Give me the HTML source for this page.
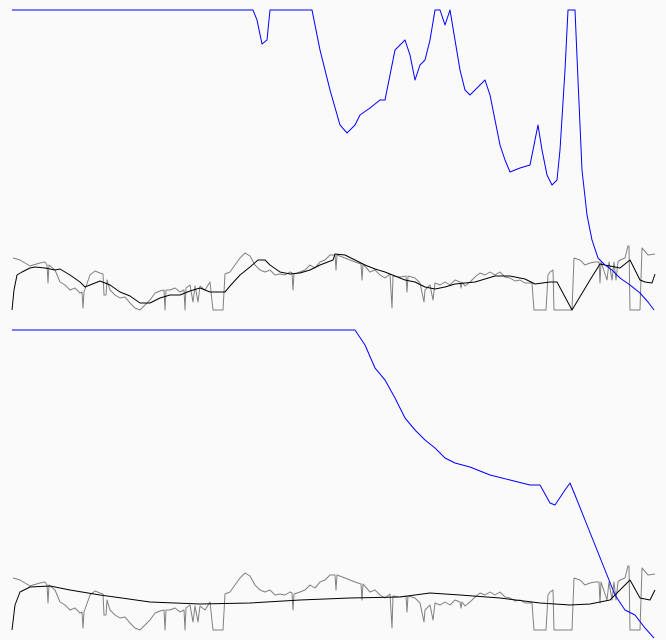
<!DOCTYPE html>
<html><head><meta charset="utf-8"><style>
html,body{margin:0;padding:0;background:#fafafa;}
svg{display:block;}
</style></head><body>
<svg id="chart" width="666" height="640" viewBox="0 0 666 640" xmlns="http://www.w3.org/2000/svg">
<rect width="666" height="640" fill="#fafafa"/>
<g id="top"></g>
<g id="bottom"></g>
</svg>
<script>
// Shared noisy series (day index, value)
const grayT=[1,8,13,18,21,28,33,35,36,37,43,48,53,58,63,68,70,71,72,78,83,88,91,92,94,95,98,103,108,113,118,123,128,133,138,143,148,152,153,154,158,163,168,172,173,174,178,181,183,186,188,193,198,201,211,213,218,223,228,233,238,243,248,253,258,263,268,273,278,280,281,282,288,293,298,303,308,313,318,323,324,325,333,338,343,349,350,351,358,363,368,373,378,380,381,388,394,395,396,403,408,412,413,418,421,423,428,433,438,443,448,449,450,453,458,463,468,473,478,483,488,493,498,503,508,513,520,522,534,536,538,541,542,560,562,568,573,578,583,587,588,589,595,597,600,602,604,606,608,613,616,617,618,628,630,636,643];
const grayV=[52,50,47,44,45,47,48,45,27,45,40,28,25,20,22,17,18,2,18,35,39,37,36,15,15,30,20,15,12,13,7,2,0,5,10,17,19,20,0,20,20,22,18,20,0,22,25,8,24,8,24,20,28,0,0,36,38,45,52,57,54,45,40,38,40,35,36,35,38,37,20,36,38,40,45,42,48,50,55,55,40,55,52,50,48,46,30,46,38,40,35,32,36,2,34,33,34,18,34,32,27,8,20,25,10,27,25,28,25,30,28,22,28,24,28,33,37,35,38,35,38,33,32,29,30,27,27,0,0,35,38,40,0,0,52,50,45,47,48,48,27,48,30,48,30,48,30,48,50,52,64,64,0,0,62,55,56];
// Top panel
const topBlackT=[0,2,5,10,18,23,33,43,48,58,68,73,78,88,98,108,118,128,138,148,158,168,178,188,198,213,218,228,238,246,253,258,268,278,288,298,308,321,323,333,343,353,363,373,383,393,403,413,423,433,443,453,463,473,483,498,513,523,538,545,560,578,588,598,608,618,628,633,640,643];
const topBlackV=[0,20,35,38,42,43,42,40,41,35,28,23,25,29,25,18,14,7,7,12,15,15,19,22,18,18,24,35,43,50,50,45,38,36,37,40,45,50,56,55,50,45,41,38,34,30,28,23,21,23,26,27,28,31,34,34,31,26,28,28,0,30,46,44,42,50,30,28,27,36];
const topBlueT=[0,241,245,250,255,258,300,308,318,328,335,343,348,358,368,373,378,383,388,393,398,403,408,413,418,423,428,433,438,443,448,453,458,463,468,473,478,483,488,493,498,508,518,523,526,530,535,540,545,548,553,556,563,566,570,575,580,586,593,600,608,618,628,636,642];
const topBlueV=[300,300,290,266,270,300,300,260,220,185,177,185,195,202,210,210,235,260,265,270,255,230,245,250,270,300,300,285,300,270,240,220,215,220,225,230,215,190,165,150,138,142,145,170,185,160,135,125,130,160,240,300,300,230,140,95,70,52,45,40,32,25,17,8,0];
// Bottom panel
const botBlackT=[0,3,8,18,38,58,88,138,188,238,288,338,388,418,448,488,528,558,578,598,618,628,638,643];
const botBlackV=[0,25,38,43,44,40,35,28,26,27,30,32,33,37,35,32,27,25,26,30,50,32,30,40];
const botBlueT=[0,343,353,363,373,383,393,403,413,423,433,443,458,478,498,518,528,538,543,553,558,563,573,583,593,603,613,623,633,642];
const botBlueV=[300,300,285,262,250,232,212,200,190,182,172,167,163,155,150,145,145,127,125,140,147,135,110,85,60,35,20,15,2,-8];

const NS='http://www.w3.org/2000/svg';
const xAxis=t=>12+t;
function yAxis(base){return v=>base-v;}
function drawLine(g,ts,vs,ya,color,name){
  const p=document.createElementNS(NS,'polyline');
  p.setAttribute('points',ts.map((t,i)=>xAxis(t)+','+ya(vs[i])).join(' '));
  p.setAttribute('fill','none');p.setAttribute('stroke',color);p.setAttribute('stroke-width','1');
  p.setAttribute('stroke-linejoin','round');
  
  
  g.appendChild(p);
}
const gt=document.getElementById('top'),gb=document.getElementById('bottom');
const yt=yAxis(310),yb=yAxis(630);
drawLine(gt,grayT,grayV,yt,'#808080','top-gray-series');
drawLine(gt,topBlackT,topBlackV,yt,'#000000','top-black-series');
drawLine(gt,topBlueT,topBlueV,yt,'#0000ff','top-blue-series');
drawLine(gb,grayT,grayV,yb,'#808080','bottom-gray-series');
drawLine(gb,botBlackT,botBlackV,yb,'#000000','bottom-black-series');
drawLine(gb,botBlueT,botBlueV,yb,'#0000ff','bottom-blue-series');
</script>
</body></html>
